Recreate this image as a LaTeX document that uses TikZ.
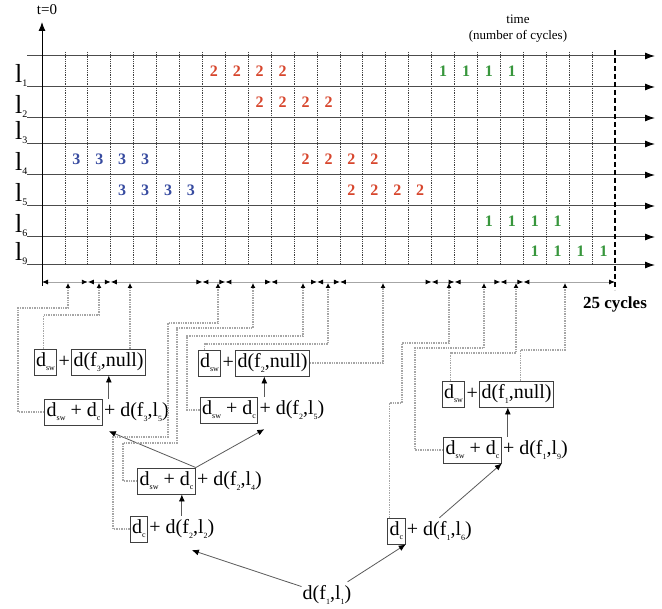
\documentclass[tikz,border=0pt]{standalone}
\usepackage{fontspec}
\setmainfont{Liberation Serif}
\usetikzlibrary{positioning,arrows.meta,calc}
\definecolor{redtwo}{RGB}{215,70,45}
\definecolor{bluethree}{RGB}{55,75,160}
\definecolor{greenone}{RGB}{55,150,60}
\newcommand\lowsub[1]{\raisebox{-0.45ex}{\fontsize{8}{8}\selectfont #1}}
\newcommand\rowsub[1]{\raisebox{-0.3ex}{\fontsize{10}{10}\selectfont #1}}

\begin{document}
\begin{tikzpicture}[x=1pt, y=-1pt,
    dbox/.style={draw=black!75, line width=0.9pt, rectangle, minimum height=26pt,
                 inner sep=2pt, font=\fontsize{20}{22}\selectfont},
    dtxt/.style={rectangle, minimum height=26pt, inner sep=1pt,
                 font=\fontsize{20}{22}\selectfont},
    cell/.style={font=\fontsize{16}{16}\selectfont\bfseries, inner sep=0pt},
    lbl/.style={font=\fontsize{26}{26}\selectfont, inner sep=0pt, anchor=base west},
    lane/.style={draw=gray!60!black, line width=1pt, -{Latex[length=10pt,width=7pt,color=black]}},
    tick/.style={draw=gray!50!black, densely dotted, line width=0.8pt},
    cyc/.style={draw=gray!70, line width=0.9pt,
                {Latex[length=6pt,width=5pt,color=black]}-{Latex[length=6pt,width=5pt,color=black]}},
    conn/.style={draw=gray!70, densely dotted, line width=1.4pt,
                 -{Latex[length=5pt,width=5pt,color=black]}},
    ar/.style={draw=black!65, line width=0.8pt, -{Latex[length=7pt,width=6pt,color=black]}},
]
\useasboundingbox (0,0) rectangle (662,609);

% lanes, cycle ticks, time axis
\foreach \y in {56,87,118,144,175,206,237,265}
  \draw[lane] (27,\y) -- (655,\y);
\foreach \k in {1,...,24}
  \draw[tick] ({42+22.92*\k},52) -- ({42+22.92*\k},266);
\draw[black, line width=1.8pt, dash pattern=on 5pt off 3pt] (615,50) -- (615,290);
\draw[black, line width=1pt, -{Latex[length=9pt,width=7pt]}] (42,286) -- (42,22);
\node[font=\fontsize{15}{15}\selectfont] (tzero) at (47,10) {t=0};
\node[font=\fontsize{13}{16}\selectfont, align=center] (tlab) at (518,29) {time\\(number of cycles)};
\node[font=\fontsize{17}{17}\selectfont\bfseries] (total) at (615,304) {25 cycles};

% link labels
\foreach \yb/\lab in {87/1,118/2,144/3,175/4,206/5,237/6,265/9}
  \node[lbl] (lab\lab) at (15,\yb-4) {l\rowsub{\lab}};

% flits in the cells
\foreach \k in {8,...,11}
  \node[cell, text=redtwo] (a\k) at ({42+22.92*(\k-0.5)},71.5) {2};
\foreach \k in {18,...,21}
  \node[cell, text=greenone] (b\k) at ({42+22.92*(\k-0.5)},71.5) {1};
\foreach \k in {10,...,13}
  \node[cell, text=redtwo] (c\k) at ({42+22.92*(\k-0.5)},102.5) {2};
\foreach \k in {2,...,5}
  \node[cell, text=bluethree] (d\k) at ({42+22.92*(\k-0.5)},159.5) {3};
\foreach \k in {12,...,15}
  \node[cell, text=redtwo] (e\k) at ({42+22.92*(\k-0.5)},159.5) {2};
\foreach \k in {4,...,7}
  \node[cell, text=bluethree] (g\k) at ({42+22.92*(\k-0.5)},190.5) {3};
\foreach \k in {14,...,17}
  \node[cell, text=redtwo] (h\k) at ({42+22.92*(\k-0.5)},190.5) {2};
\foreach \k in {20,...,23}
  \node[cell, text=greenone] (m\k) at ({42+22.92*(\k-0.5)},221.5) {1};
\foreach \k in {22,...,25}
  \node[cell, text=greenone] (n\k) at ({42+22.92*(\k-0.5)},251) {1};

% delay intervals
\foreach \a/\b in {0/2,2/3,3/7,7/8,8/10,10/12,12/13,13/17,17/18,18/20,20/21,21/25}
  \draw[cyc] ({42+22.92*\a},282) -- ({42+22.92*\b},282);
\foreach \x [count=\i] in {68,99,130,218,253,303,328,383,449,484,516,565}
  \coordinate (up\i) at (\x,283);

% flow f3
\node[dbox] (sw3) at (45.5,362) {d\lowsub{sw}};
\node[dtxt, right=0pt of sw3] (pl3) {+};
\node[dbox, right=0pt of pl3] (nl3) {d(f\lowsub{3},null)};
\node[dbox] (sc35) at (73.5,412) {d\lowsub{sw} + d\lowsub{c}};
\node[dtxt, right=0pt of sc35] (t35) {+ d(f\lowsub{3},l\lowsub{5})};

% flow f2
\node[dbox] (sw2) at (209.5,363) {d\lowsub{sw}};
\node[dtxt, right=0pt of sw2] (pl2) {+};
\node[dbox, right=0pt of pl2] (nl2) {d(f\lowsub{2},null)};
\node[dbox] (sc25) at (229,410) {d\lowsub{sw} + d\lowsub{c}};
\node[dtxt, right=0pt of sc25] (t25) {+ d(f\lowsub{2},l\lowsub{5})};
\node[dbox] (sc24) at (166.5,481) {d\lowsub{sw} + d\lowsub{c}};
\node[dtxt, right=0pt of sc24] (t24) {+ d(f\lowsub{2},l\lowsub{4})};
\node[dbox] (c22) at (139,529) {d\lowsub{c}};
\node[dtxt, right=0pt of c22] (t22) {+ d(f\lowsub{2},l\lowsub{2})};

% flow f1
\node[dbox] (sw1) at (453.5,394) {d\lowsub{sw}};
\node[dtxt, right=0pt of sw1] (pl1) {+};
\node[dbox, right=0pt of pl1] (nl1) {d(f\lowsub{1},null)};
\node[dbox] (sc19) at (472.5,450) {d\lowsub{sw} + d\lowsub{c}};
\node[dtxt, right=0pt of sc19] (t19) {+ d(f\lowsub{1},l\lowsub{9})};
\node[dbox] (c16) at (396.5,531) {d\lowsub{c}};
\node[dtxt, right=0pt of c16] (t16) {+ d(f\lowsub{1},l\lowsub{6})};
\node[dtxt] (b11) at (327,595) {d(f\lowsub{1},l\lowsub{1})};

% sums
\coordinate (j35) at ([xshift=6pt]t35.north west);
\coordinate (j25) at ([xshift=6pt]t25.north west);
\coordinate (j19) at ([xshift=6pt]t19.north west);
\coordinate (k35) at ([xshift=6pt,yshift=-6pt]t35.south west);
\coordinate (k25) at ([xshift=6pt,yshift=-6pt]t25.south west);
\draw[ar] (j35) -- (j35 |- nl3.south);
\draw[ar] (j25) -- (j25 |- nl2.south);
\draw[ar] (j19) -- (j19 |- nl1.south);
\draw[ar] (sc24.north east) -- (k35);
\draw[ar] (sc24.north east) -- (k25);
\draw[ar] (t22.north) -- (t22.north |- sc24.south);
\draw[ar] (t16.north) -- (sc19.south east);
\draw[ar] (b11) -- ([xshift=10pt,yshift=-8pt]t22.south);
\draw[ar] (b11) -- (c16.south east);

% delays to intervals
\draw[conn] (sc35.west) -| (18,308) -| (up1);
\draw[conn] ([xshift=-2pt]sw3.north) |- (99,315) -- (up2);
\draw[conn] (nl3.north -| up3) -- (up3);
\draw[conn] (c22.west) -| (113,437) -| (168,323) -| (up4);
\draw[conn] (sc24.west) -| (123,443) -| (177,328) -| (up5);
\draw[conn] (sc25.west) -| (187,336) -| (up6);
\draw[conn] ([xshift=-5pt]sw2.north) |- (328,344) -- (up7);
\draw[conn] (nl2.east) -| (up8);
\draw[conn] ([xshift=-7pt]c16.north) |- (402,403) |- (449,343) -- (up9);
\draw[conn] (sc19.west) -| (415,348) -| (up10);
\draw[conn] ([xshift=-3pt]sw1.north) |- (516,353) -- (up11);
\draw[conn] ([xshift=4pt]nl1.north) |- (565,350) -- (up12);
\end{tikzpicture}
\end{document}
